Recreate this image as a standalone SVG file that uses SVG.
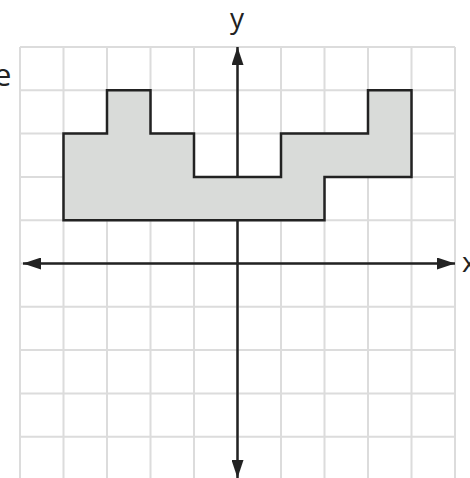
<svg xmlns="http://www.w3.org/2000/svg" width="470" height="478" viewBox="0 0 470 478">
  <style>
    .grid { stroke: #dcdcdc; stroke-width: 2; fill: none; }
    .axis { stroke: #222; stroke-width: 2.5; fill: none; }
    .shape { fill: #d9dbd9; stroke: #222; stroke-width: 2.5; stroke-linejoin: miter; }
    .lbl { font-family: "Open Sans", "Noto Sans", sans-serif; font-size: 28px; fill: #222; }
  </style>
  <defs>
    <marker id="arr" viewBox="0 0 18 12" refX="18" refY="6" markerWidth="18" markerHeight="12" markerUnits="userSpaceOnUse" orient="auto">
      <path d="M0,0 L18,6 L0,12 Z" fill="#222"/>
    </marker>
  </defs>
  <rect width="470" height="478" fill="#fff"/>
  <g id="grid" class="grid">
    <path d="M20,47V478M63.5,47V478M107,47V478M150.5,47V478M194,47V478M237.5,47V478M281,47V478M324.5,47V478M368,47V478M411.5,47V478M455,47V478"/>
    <path d="M20,47H455M20,90.3H455M20,133.6H455M20,176.9H455M20,220.2H455M20,263.5H455M20,306.8H455M20,350.1H455M20,393.4H455M20,436.7H455"/>
  </g>
  <g id="connectors">
    <line class="axis" x1="237.5" y1="263.5" x2="455" y2="263.5" marker-end="url(#arr)"/>
    <line class="axis" x1="237.5" y1="263.5" x2="23" y2="263.5" marker-end="url(#arr)"/>
    <line class="axis" x1="237.5" y1="263.5" x2="237.5" y2="47" marker-end="url(#arr)"/>
    <line class="axis" x1="237.5" y1="263.5" x2="237.5" y2="478" marker-end="url(#arr)"/>
  </g>
  <g id="shape">
    <polygon class="shape" points="63.5,133.6 107,133.6 107,90.3 150.5,90.3 150.5,133.6 194,133.6 194,176.9 281,176.9 281,133.6 368,133.6 368,90.3 411.5,90.3 411.5,176.9 324.5,176.9 324.5,220.2 63.5,220.2"/>
  </g>
  <g id="labels">
    <text class="lbl" x="237" y="28" text-anchor="middle">y</text>
    <text class="lbl" x="462" y="272">x</text>
    <text class="lbl" x="-6" y="86" style="font-size:31px">e</text>
  </g>
</svg>
